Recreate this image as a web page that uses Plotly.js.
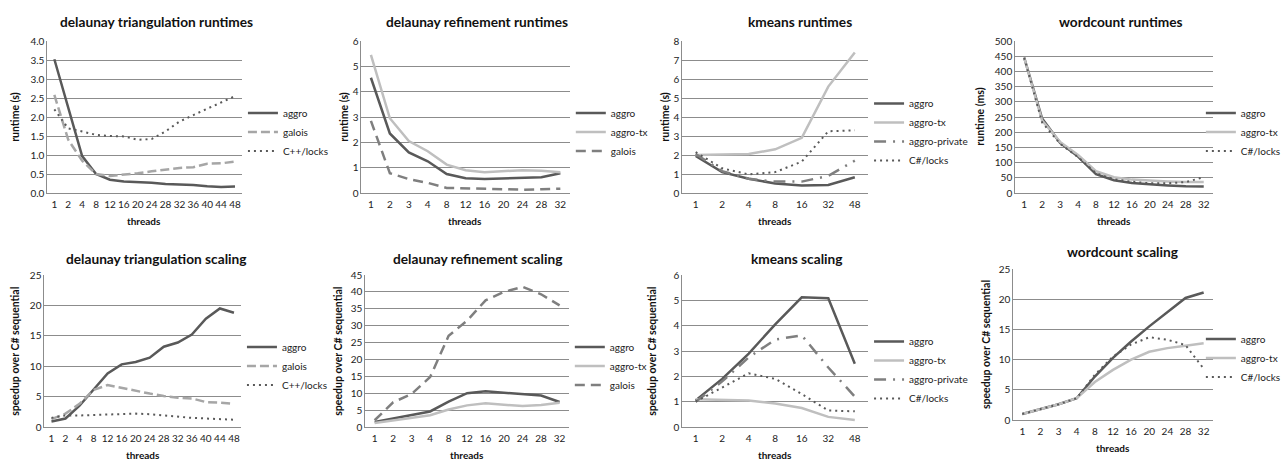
<!DOCTYPE html>
<html>
<head>
<meta charset="utf-8">
<script src="https://cdn.plot.ly/plotly-3.0.1.min.js"></script>
<style>html,body{margin:0;padding:0;background:#fff;}#chart{width:1286px;height:460px;}</style>
</head>
<body>
<div id="chart"></div>
<script>
// ---------- categories ----------
const threads14 = ['1','2','4','8','12','16','20','24','28','32','36','40','44','48'];
const threads11 = ['1','2','3','4','8','12','16','20','24','28','32'];
const threads7  = ['1','2','4','8','16','32','48'];

// ---------- delaunay triangulation runtimes (s) ----------
const dtRunAggro  = [3.52, 2.25, 0.97, 0.50, 0.35, 0.30, 0.29, 0.27, 0.24, 0.23, 0.21, 0.18, 0.16, 0.17];
const dtRunGalois = [2.58, 1.40, 0.85, 0.50, 0.45, 0.48, 0.52, 0.57, 0.62, 0.66, 0.68, 0.77, 0.78, 0.83];
const dtRunLocks  = [2.20, 1.70, 1.62, 1.53, 1.50, 1.49, 1.40, 1.42, 1.62, 1.88, 2.05, 2.22, 2.40, 2.55];

// ---------- delaunay refinement runtimes (s) ----------
const drRunAggro   = [4.55, 2.35, 1.60, 1.25, 0.75, 0.58, 0.55, 0.57, 0.60, 0.62, 0.78];
const drRunAggroTx = [5.45, 2.95, 2.05, 1.65, 1.12, 0.90, 0.82, 0.85, 0.90, 0.88, 0.82];
const drRunGalois  = [2.85, 0.78, 0.55, 0.40, 0.20, 0.18, 0.15, 0.15, 0.13, 0.15, 0.17];

// ---------- kmeans runtimes (s) ----------
const kmRunAggro   = [1.95, 1.10, 0.75, 0.50, 0.40, 0.42, 0.83];
const kmRunAggroTx = [2.00, 2.02, 2.05, 2.30, 2.90, 5.60, 7.40];
const kmRunPrivate = [2.05, 1.15, 0.75, 0.60, 0.60, 0.90, 1.70];
const kmRunLocks   = [2.15, 1.30, 0.98, 1.10, 1.65, 3.25, 3.30];

// ---------- wordcount runtimes (ms) ----------
const wcRunAggro   = [445, 245, 165, 120, 62, 42, 33, 28, 25, 22, 21];
const wcRunAggroTx = [445, 238, 168, 125, 72, 52, 44, 40, 38, 36, 36];
const wcRunLocks   = [445, 232, 162, 118, 65, 45, 37, 32, 32, 36, 52];

// ---------- delaunay triangulation scaling ----------
const dtScAggro  = [0.9, 1.4, 3.5, 6.2, 8.8, 10.3, 10.7, 11.4, 13.2, 13.9, 15.2, 17.8, 19.5, 18.8];
const dtScGalois = [1.3, 2.2, 3.8, 6.1, 6.9, 6.4, 6.0, 5.5, 5.1, 4.8, 4.7, 4.1, 4.0, 3.8];
const dtScLocks  = [1.5, 1.9, 1.9, 2.0, 2.0, 2.1, 2.2, 2.1, 1.9, 1.6, 1.5, 1.4, 1.3, 1.2];

// ---------- delaunay refinement scaling ----------
const drScAggro   = [1.5, 2.5, 3.5, 4.6, 7.5, 10.0, 10.6, 10.2, 9.6, 9.3, 7.4];
const drScAggroTx = [1.2, 2.0, 2.8, 3.5, 5.2, 6.4, 7.0, 6.6, 6.2, 6.5, 7.2];
const drScGalois  = [2.0, 7.3, 9.8, 14.8, 27.0, 31.5, 37.5, 40.0, 41.5, 39.3, 36.0];

// ---------- kmeans scaling ----------
const kmScAggro   = [1.05, 1.90, 2.90, 4.05, 5.12, 5.08, 2.50];
const kmScAggroTx = [1.10, 1.07, 1.05, 0.93, 0.75, 0.40, 0.28];
const kmScPrivate = [1.00, 1.80, 2.75, 3.45, 3.62, 2.35, 1.20];
const kmScLocks   = [1.00, 1.55, 2.12, 1.90, 1.30, 0.65, 0.62];

// ---------- wordcount scaling ----------
const wcScAggro   = [1.0, 1.8, 2.6, 3.6, 7.2, 10.3, 13.0, 15.5, 17.8, 20.2, 21.1];
const wcScAggroTx = [1.0, 1.8, 2.6, 3.6, 6.3, 8.3, 10.0, 11.3, 11.9, 12.3, 12.7];
const wcScLocks   = [1.0, 1.8, 2.6, 3.6, 7.5, 10.5, 12.5, 13.7, 13.3, 12.4, 8.5];

// ---------- titles ----------
const panelTitles = ['delaunay triangulation runtimes','delaunay refinement runtimes','kmeans runtimes','wordcount runtimes',
  'delaunay triangulation scaling','delaunay refinement scaling','kmeans scaling','wordcount scaling'];
const yTitles = ['runtime (s)','runtime (s)','runtime (s)','runtime (ms)',
  'speedup over C# sequential','speedup over C# sequential','speedup over C# sequential','speedup over C# sequential'];
const xTitle = 'threads';

// ---------- styles ----------
const FONT = 'Lato, "Open Sans", sans-serif';
const S = {
  aggro:   {color:'#595959', width:2.5, dash:'solid'},
  aggroTx: {color:'#bfbfbf', width:2.5, dash:'solid'},
  galoisL: {color:'#a6a6a6', width:2.5, dash:'9px,4px'},
  galoisD: {color:'#7f7f7f', width:2.5, dash:'10px,6px'},
  locks:   {color:'#595959', width:2,   dash:'2px,4px'},
  private: {color:'#7f7f7f', width:2.5, dash:'12px,7px,2px,7px'}
};

const panels = [
  {cats:threads14, yr:[0,4], dt:0.5, fmt:'.1f', series:[['aggro',dtRunAggro,S.aggro],['galois',dtRunGalois,S.galoisL],['C++/locks',dtRunLocks,S.locks]]},
  {cats:threads11, yr:[0,6], dt:1, fmt:'d', series:[['aggro',drRunAggro,S.aggro],['aggro-tx',drRunAggroTx,S.aggroTx],['galois',drRunGalois,S.galoisD]]},
  {cats:threads7, yr:[0,8], dt:1, fmt:'d', series:[['aggro',kmRunAggro,S.aggro],['aggro-tx',kmRunAggroTx,S.aggroTx],['aggro-private',kmRunPrivate,S.private],['C#/locks',kmRunLocks,S.locks]]},
  {cats:threads11, yr:[0,500], dt:50, fmt:'d', series:[['aggro',wcRunAggro,S.aggro],['aggro-tx',wcRunAggroTx,S.aggroTx],['C#/locks',wcRunLocks,S.locks]]},
  {cats:threads14, yr:[0,25], dt:5, fmt:'d', series:[['aggro',dtScAggro,S.aggro],['galois',dtScGalois,S.galoisL],['C++/locks',dtScLocks,S.locks]]},
  {cats:threads11, yr:[0,45], dt:5, fmt:'d', series:[['aggro',drScAggro,S.aggro],['aggro-tx',drScAggroTx,S.aggroTx],['galois',drScGalois,S.galoisD]]},
  {cats:threads7, yr:[0,6], dt:1, fmt:'d', series:[['aggro',kmScAggro,S.aggro],['aggro-tx',kmScAggroTx,S.aggroTx],['aggro-private',kmScPrivate,S.private],['C#/locks',kmScLocks,S.locks]]},
  {cats:threads11, yr:[0,25], dt:5, fmt:'d', series:[['aggro',wcScAggro,S.aggro],['aggro-tx',wcScAggroTx,S.aggroTx],['C#/locks',wcScLocks,S.locks]]}
];

// ---------- layout geometry (pixels) ----------
const W = 1286, H = 460;
const geom = [
  {x0:48,  x1:245,  y0:41,  y1:193, title:[158,22],  ytx:15,  xt:[146,221], leg:[246,132]},
  {x0:366, x1:577,  y0:41,  y1:193, title:[483,22],  ytx:348, xt:[471,221], leg:[578,132]},
  {x0:691, x1:879,  y0:41,  y1:193, title:[810,22],  ytx:673, xt:[785,221], leg:[880,132]},
  {x0:1028,x1:1228, y0:41,  y1:193, title:[1135,22], ytx:992, xt:[1128,221],leg:[1216,132]},
  {x0:45,  x1:244,  y0:275, y1:427, title:[158,258], ytx:15,  xt:[145,455], leg:[245,366]},
  {x0:370, x1:576,  y0:275, y1:427, title:[484,258], ytx:342, xt:[473,455], leg:[577,366]},
  {x0:691, x1:879,  y0:275, y1:427, title:[807,258], ytx:660, xt:[785,455], leg:[880,370]},
  {x0:1026,x1:1228, y0:269, y1:420, title:[1137,252],ytx:998, xt:[1127,448],leg:[1216,358]}
];

const px = v => v / W;
const py = v => 1 - v / H;

const data = [];
const layout = {
  width: W, height: H,
  margin: {l:0, r:0, t:0, b:0},
  paper_bgcolor: '#fff', plot_bgcolor: '#fff',
  font: {family: FONT, size: 10, color: '#222'},
  annotations: []
};

panels.forEach((p, i) => {
  const k = i + 1;
  const g = geom[i];
  const xa = 'xaxis' + (k === 1 ? '' : k), ya = 'yaxis' + (k === 1 ? '' : k);
  const xr = 'x' + (k === 1 ? '' : k), yr = 'y' + (k === 1 ? '' : k);
  const legName = 'legend' + (k === 1 ? '' : k);

  p.series.forEach(([name, vals, st]) => {
    data.push({
      type: 'scatter', mode: 'lines', name: name,
      x: p.cats, y: vals, xaxis: xr, yaxis: yr, legend: legName,
      line: {color: st.color, width: st.width, dash: st.dash, shape: 'linear'},
      hoverinfo: 'x+y+name'
    });
  });

  layout[xa] = {
    domain: [px(g.x0), px(g.x1)], anchor: yr, type: 'category',
    range: [-0.5, p.cats.length - 0.5], fixedrange: true,
    showgrid: false, zeroline: false, showline: true, linecolor: '#8c8c8c', linewidth: 1,
    ticks: '', tickfont: {family: FONT, size: 10, color: '#222'}, ticklabelstandoff: 2
  };
  layout[ya] = {
    domain: [py(g.y1), py(g.y0)], anchor: xr, range: p.yr, dtick: p.dt, tick0: 0,
    tickformat: p.fmt, fixedrange: true,
    showgrid: true, gridcolor: '#8c8c8c', gridwidth: 1, zeroline: false,
    showline: true, linecolor: '#8c8c8c', linewidth: 1,
    ticks: '', tickfont: {family: FONT, size: 10, color: '#222'}
  };
  layout[legName] = {
    x: px(g.leg[0]), y: py(g.leg[1]), xanchor: 'left', yanchor: 'middle',
    xref: 'paper', yref: 'paper', bgcolor: 'rgba(0,0,0,0)', borderwidth: 0,
    font: {family: FONT, size: 10, color: '#222'}, tracegroupgap: 0, itemwidth: 30
  };

  layout.annotations.push({
    text: '<b>' + panelTitles[i] + '</b>', xref: 'paper', yref: 'paper',
    x: px(g.title[0]), y: py(g.title[1]), xanchor: 'center', yanchor: 'middle',
    showarrow: false, font: {family: FONT, size: 13.7, color: '#111'}
  });
  layout.annotations.push({
    text: '<b>' + yTitles[i] + '</b>', xref: 'paper', yref: 'paper', textangle: -90,
    x: px(g.ytx), y: py((g.y0 + g.y1) / 2), xanchor: 'center', yanchor: 'middle',
    showarrow: false, font: {family: FONT, size: 10.5, color: '#111'}
  });
  layout.annotations.push({
    text: '<b>' + xTitle + '</b>', xref: 'paper', yref: 'paper',
    x: px(g.xt[0]), y: py(g.xt[1]), xanchor: 'center', yanchor: 'middle',
    showarrow: false, font: {family: FONT, size: 10, color: '#111'}
  });
});

Plotly.newPlot('chart', data, layout, {staticPlot: true, displayModeBar: false});
</script>
</body>
</html>
